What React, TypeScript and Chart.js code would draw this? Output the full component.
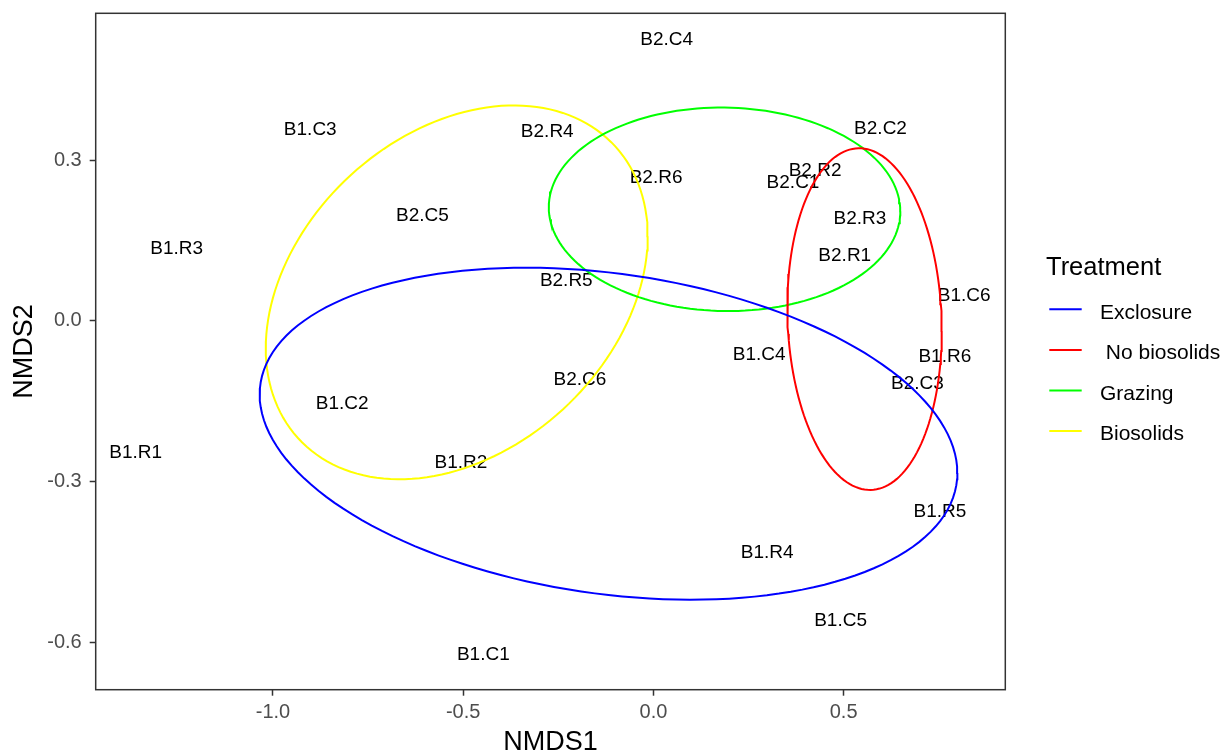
import { useEffect, useRef } from "react";
import { Chart, registerables } from "chart.js";

Chart.register(...registerables);

// NMDS site scores (text labels are centred on each site)
const sampleNames = [
  "B2.C4", "B1.C3", "B2.R4", "B2.C2", "B2.R6", "B2.R2", "B2.C1", "B2.C5",
  "B2.R3", "B1.R3", "B2.R1", "B2.R5", "B1.C6", "B1.C4", "B1.R6", "B2.C6",
  "B2.C3", "B1.C2", "B1.R1", "B1.R2", "B1.R5", "B1.R4", "B1.C5", "B1.C1",
];
const nmds1 = [
  0.035, -0.902, -0.279, 0.597, 0.007, 0.425, 0.367, -0.607,
  0.543, -1.253, 0.503, -0.229, 0.817, 0.278, 0.766, -0.193,
  0.694, -0.818, -1.361, -0.506, 0.753, 0.299, 0.492, -0.447,
];
const nmds2 = [
  0.527, 0.359, 0.356, 0.361, 0.270, 0.282, 0.260, 0.198,
  0.194, 0.138, 0.125, 0.078, 0.050, -0.061, -0.065, -0.107,
  -0.114, -0.153, -0.244, -0.263, -0.353, -0.431, -0.557, -0.621,
];

// Treatment groups and their confidence ellipses (centre, half extents, correlation)
const treatments = ["Exclosure", " No biosolids", "Grazing", "Biosolids"];
const treatmentColors = ["#0000FF", "#FF0000", "#00FF00", "#FFFF00"];
const ellipseCenterX = [-0.118, 0.555, 0.187, -0.517];
const ellipseCenterY = [-0.211, 0.003, 0.208, 0.053];
const ellipseHalfWidth = [0.917, 0.203, 0.462, 0.502];
const ellipseHalfHeight = [0.31, 0.319, 0.19, 0.349];
const ellipseCorrelation = [-0.236, -0.07, -0.02, 0.3];

// Axes
const xTicks = [-1.0, -0.5, 0.0, 0.5];
const yTicks = [-0.6, -0.3, 0.0, 0.3];
const xRange = [-1.466, 0.925];
const yRange = [-0.689, 0.574];
const xTitle = "NMDS1";
const yTitle = "NMDS2";
const legendTitle = "Treatment";

const FONT = "'Liberation Sans', Arial, Helvetica, sans-serif";

function ellipseOutline(i: number, segments = 160) {
  const cx = ellipseCenterX[i];
  const cy = ellipseCenterY[i];
  const hw = ellipseHalfWidth[i];
  const hh = ellipseHalfHeight[i];
  const r = ellipseCorrelation[i];
  const s = Math.sqrt(1 - r * r);
  const pts: { x: number; y: number }[] = [];
  for (let k = 0; k <= segments; k++) {
    const t = (2 * Math.PI * k) / segments;
    pts.push({
      x: cx + hw * Math.cos(t),
      y: cy + hh * (r * Math.cos(t) + s * Math.sin(t)),
    });
  }
  return pts;
}

const siteLabelsPlugin = {
  id: "siteLabels",
  beforeDatasetsDraw(chart: any) {
    const meta = chart.getDatasetMeta(0);
    const ctx = chart.ctx;
    const size = 19;
    ctx.save();
    ctx.fillStyle = "#000000";
    ctx.font = `${size}px ${FONT}`;
    ctx.textAlign = "center";
    ctx.textBaseline = "alphabetic";
    meta.data.forEach((el: any, i: number) => {
      ctx.fillText(sampleNames[i], el.x, el.y + 0.358 * size);
    });
    ctx.restore();
  },
};

const panelBorderPlugin = {
  id: "panelBorder",
  afterDatasetsDraw(chart: any) {
    const { ctx, chartArea } = chart;
    ctx.save();
    ctx.strokeStyle = "#333333";
    ctx.lineWidth = 1.5;
    ctx.strokeRect(
      chartArea.left,
      chartArea.top,
      chartArea.right - chartArea.left,
      chartArea.bottom - chartArea.top
    );
    ctx.restore();
  },
};

const treatmentLegendPlugin = {
  id: "treatmentLegend",
  afterDraw(chart: any) {
    const ctx = chart.ctx;
    const left = chart.chartArea.right + 40.7;
    ctx.save();
    ctx.fillStyle = "#000000";
    ctx.textAlign = "left";
    ctx.textBaseline = "alphabetic";
    ctx.font = `25.5px ${FONT}`;
    ctx.fillText(legendTitle, left, 275);
    const labelSize = 21;
    ctx.font = `${labelSize}px ${FONT}`;
    treatments.forEach((name, i) => {
      const y = 311 + i * 40.6;
      ctx.strokeStyle = treatmentColors[i];
      ctx.lineWidth = 2;
      ctx.beginPath();
      ctx.moveTo(left + 3.3, y - 1.7);
      ctx.lineTo(left + 35.7, y - 1.7);
      ctx.stroke();
      ctx.fillText(name, left + 54, y + 0.358 * labelSize);
    });
    ctx.restore();
  },
};

export default function App() {
  const canvasRef = useRef<HTMLCanvasElement | null>(null);

  useEffect(() => {
    if (!canvasRef.current) return;
    const sites = sampleNames.map((_, i) => ({ x: nmds1[i], y: nmds2[i] }));
    const ellipses = treatments.map((name, i) => ({
      label: name,
      data: ellipseOutline(i),
      showLine: true,
      borderColor: treatmentColors[i],
      backgroundColor: treatmentColors[i],
      borderWidth: 2,
      pointRadius: 0,
      pointHoverRadius: 0,
      fill: false,
      tension: 0,
    }));

    const noEdgePadding = (scale: any) => {
      scale.paddingTop = 0;
      scale.paddingBottom = 0;
      scale.paddingLeft = 0;
      scale.paddingRight = 0;
    };

    const chart = new Chart(canvasRef.current, {
      type: "scatter",
      data: {
        datasets: [
          {
            label: "sites",
            data: sites,
            pointRadius: 0,
            pointHoverRadius: 0,
            showLine: false,
          },
          ...ellipses,
        ],
      },
      options: {
        responsive: false,
        animation: false,
        events: [],
        layout: { padding: { left: 0, top: 13.3, right: 219.7, bottom: 0 } },
        plugins: {
          legend: { display: false },
          tooltip: { enabled: false },
        },
        scales: {
          x: {
            type: "linear",
            min: xRange[0],
            max: xRange[1],
            afterBuildTicks: (scale: any) => {
              scale.ticks = xTicks.map((v) => ({ value: v }));
            },
            afterFit: (scale: any) => {
              scale.height = 66.3;
              noEdgePadding(scale);
            },
            ticks: {
              autoSkip: false,
              maxRotation: 0,
              padding: 5,
              color: "#4D4D4D",
              font: { family: FONT, size: 20 },
              callback: (v: any) => Number(v).toFixed(1),
            },
            grid: {
              display: true,
              drawOnChartArea: false,
              drawTicks: true,
              tickLength: 6,
              tickColor: "#333333",
              tickWidth: 1.5,
            },
            border: { display: false },
            title: {
              display: true,
              text: xTitle,
              color: "#000000",
              font: { family: FONT, size: 27, lineHeight: 1 },
              padding: 0,
            },
          },
          y: {
            type: "linear",
            min: yRange[0],
            max: yRange[1],
            afterBuildTicks: (scale: any) => {
              scale.ticks = yTicks.map((v) => ({ value: v }));
            },
            afterFit: (scale: any) => {
              scale.width = 95.7;
              noEdgePadding(scale);
            },
            ticks: {
              autoSkip: false,
              padding: 8,
              color: "#4D4D4D",
              font: { family: FONT, size: 20 },
              callback: (v: any) => Number(v).toFixed(1),
            },
            grid: {
              display: true,
              drawOnChartArea: false,
              drawTicks: true,
              tickLength: 6,
              tickColor: "#333333",
              tickWidth: 1.5,
            },
            border: { display: false },
            title: {
              display: true,
              text: yTitle,
              color: "#000000",
              font: { family: FONT, size: 27, lineHeight: 1 },
              padding: { top: 11.5, bottom: 0 },
            },
          },
        },
      },
      plugins: [siteLabelsPlugin, panelBorderPlugin, treatmentLegendPlugin],
    } as any);

    return () => chart.destroy();
  }, []);

  return (
    <div
      style={{
        position: "absolute",
        left: 0,
        top: 0,
        width: 1225,
        height: 756,
        background: "#ffffff",
      }}
    >
      <canvas
        ref={canvasRef}
        width={1225}
        height={756}
        style={{ display: "block", width: 1225, height: 756 }}
      />
    </div>
  );
}
